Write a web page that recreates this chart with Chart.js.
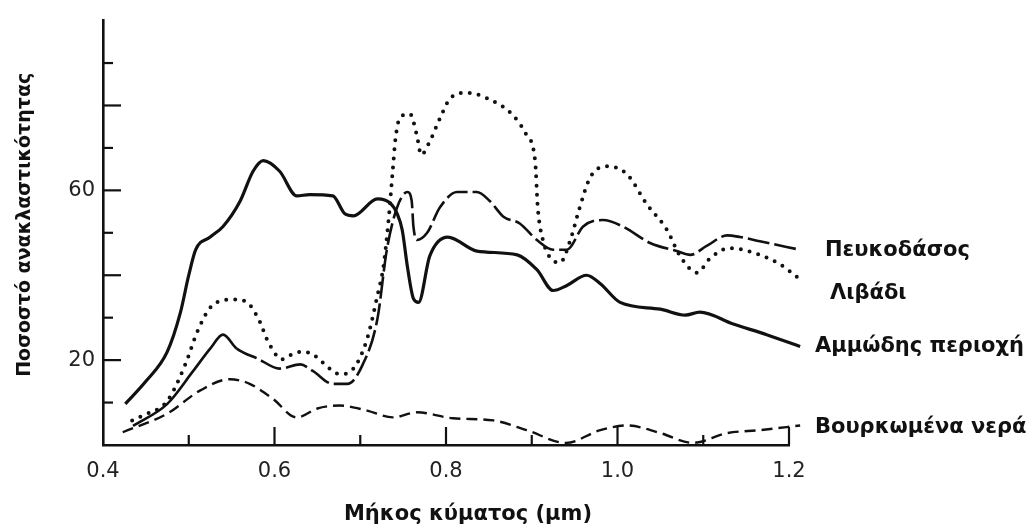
<!DOCTYPE html>
<html>
<head>
<meta charset="utf-8">
<script src="https://cdn.jsdelivr.net/npm/chart.js@4.4.1/dist/chart.umd.min.js"></script>
<style>
    html, body { margin: 0; padding: 0; background: #ffffff; }
    #chart { display: block; }
</style>
</head>
<body>
<canvas id="chart" width="1031" height="529"></canvas>
<script>
// Μήκος κύματος (μm) και ποσοστό ανακλαστικότητας ανά επιφάνεια
const pineX = [0.435, 0.475, 0.505, 0.525, 0.54, 0.556, 0.58, 0.606, 0.63, 0.645, 0.668, 0.685, 0.703, 0.72, 0.731, 0.743, 0.755, 0.76, 0.762, 0.766, 0.778, 0.793, 0.813, 0.836, 0.851, 0.867, 0.886, 0.906, 0.925, 0.941, 0.96, 0.983, 1.006, 1.038, 1.069, 1.085, 1.104, 1.128, 1.143, 1.166, 1.213];
const pineY = [4.5, 9.7, 17.4, 22.7, 26, 22.7, 20.4, 18, 19, 17.4, 14.4, 14.4, 19, 29.7, 46, 56, 59.6, 57.5, 51.5, 48.3, 50, 56, 59.6, 59.6, 57.5, 53.8, 52.2, 48.3, 46, 46, 51.5, 53, 51.5, 47.6, 45.7, 44.8, 46.9, 49.4, 49, 48, 46];

const meadowX = [0.434, 0.447, 0.475, 0.496, 0.51, 0.528, 0.552, 0.568, 0.583, 0.591, 0.609, 0.62, 0.633, 0.645, 0.665, 0.676, 0.692, 0.708, 0.72, 0.727, 0.733, 0.738, 0.741, 0.746, 0.758, 0.766, 0.771, 0.781, 0.793, 0.805, 0.824, 0.848, 0.878, 0.894, 0.904, 0.907, 0.913, 0.924, 0.933, 0.945, 0.956, 0.968, 0.988, 1.011, 1.034, 1.058, 1.073, 1.093, 1.108, 1.131, 1.166, 1.19, 1.213];
const meadowY = [5.8, 7, 10.4, 19, 26.7, 33, 34.3, 33.6, 29, 25, 20.2, 21.3, 22, 21.3, 17.9, 16.7, 18, 25, 35.2, 42, 53, 65, 72, 77, 78, 73, 68.4, 71.5, 77, 81.7, 83, 81.7, 77.7, 73, 66.8, 56, 48.3, 43.6, 43, 48.3, 56, 63, 65.7, 63.8, 56.8, 50.6, 44.5, 40.6, 44, 46.4, 44.8, 42.5, 39];

const sandX = [0.426, 0.45, 0.475, 0.49, 0.5, 0.508, 0.525, 0.54, 0.56, 0.575, 0.587, 0.606, 0.626, 0.641, 0.668, 0.682, 0.692, 0.72, 0.735, 0.743, 0.749, 0.755, 0.762, 0.768, 0.781, 0.802, 0.836, 0.883, 0.906, 0.925, 0.941, 0.964, 0.98, 1.003, 1.05, 1.079, 1.096, 1.135, 1.174, 1.213];
const sandY = [9.7, 15, 22, 31, 40, 46, 49, 51.5, 57.5, 64.5, 67, 64.5, 58.7, 59, 58.7, 54.5, 54, 58, 57, 54.5, 50.6, 42, 34.5, 33.6, 44.5, 49, 45.7, 44.8, 41.3, 36.4, 37.6, 40, 38, 33.6, 32, 30.6, 31.3, 28.5, 26, 23.2];

const waterX = [0.423, 0.475, 0.513, 0.548, 0.571, 0.598, 0.626, 0.65, 0.676, 0.708, 0.738, 0.766, 0.808, 0.855, 0.894, 0.94, 0.98, 1.011, 1.05, 1.088, 1.128, 1.166, 1.213];
const waterY = [3, 7.4, 12.8, 15.5, 14.4, 10.9, 6.5, 8.6, 9.3, 8.1, 6.5, 7.7, 6.3, 5.8, 3.5, 0.5, 3.5, 4.6, 2.8, 0.5, 2.8, 3.5, 4.6];

const seriesNames = ['Πευκοδάσος', 'Λιβάδι', 'Αμμώδης περιοχή', 'Βουρκωμένα νερά'];
const xTickLabels = ['0.4', '0.6', '0.8', '1.0', '1.2'];
const yTickLabels = ['20', '60'];
const xTitle = 'Μήκος κύματος (μm)';
const yTitle = 'Ποσοστό ανακλαστικότητας';

// θέση ετικετών δεξιά (dx από το τέλος του άξονα, dy από το τελευταίο σημείο)
const nameOffsets = [[36, 1], [41, 14], [26, 0], [26, 2]];

const INK = '#111111';

function toPoints(xs, ys) {
    return xs.map((x, i) => ({ x: x, y: ys[i] }));
}

// Γραμμές υποδιαίρεσης προς τα μέσα, όπως στο πρωτότυπο
const innerTicks = {
    id: 'innerTicks',
    afterDraw(chart) {
        const ctx = chart.ctx;
        const xs = chart.scales.x;
        const ys = chart.scales.y;
        const area = chart.chartArea;
        ctx.save();
        ctx.strokeStyle = INK;
        ctx.lineWidth = 2.2;
        xs.ticks.forEach(t => {
            const k = Math.round(t.value * 10);
            if (k <= 4) return;
            const px = xs.getPixelForValue(t.value);
            const len = k % 2 === 0 ? 18 : 10;
            ctx.beginPath();
            ctx.moveTo(px, area.bottom);
            ctx.lineTo(px, area.bottom - len);
            ctx.stroke();
        });
        ys.ticks.forEach(t => {
            const v = Math.round(t.value);
            if (v <= 0 || v >= 100) return;
            const py = ys.getPixelForValue(v);
            const len = v % 20 === 0 ? 18 : 10;
            ctx.beginPath();
            ctx.moveTo(area.left, py);
            ctx.lineTo(area.left + len, py);
            ctx.stroke();
        });
        ctx.restore();
    }
};

// Τίτλοι αξόνων και ονόματα σειρών στο δεξί άκρο κάθε καμπύλης
const textLayer = {
    id: 'textLayer',
    afterDatasetsDraw(chart) {
        const ctx = chart.ctx;
        const area = chart.chartArea;
        ctx.save();
        ctx.fillStyle = INK;
        ctx.font = 'bold 21px "DejaVu Sans"';
        ctx.textBaseline = 'middle';
        ctx.textAlign = 'left';
        chart.data.datasets.forEach((ds, i) => {
            const meta = chart.getDatasetMeta(i);
            const last = meta.data[meta.data.length - 1];
            const off = nameOffsets[i];
            ctx.fillText(ds.label, area.right + off[0], last.y + off[1]);
        });

        ctx.textAlign = 'center';
        ctx.textBaseline = 'alphabetic';
        ctx.font = 'bold 21px "DejaVu Sans"';
        ctx.fillText(xTitle, (area.left + area.right) / 2 + 22, 520);

        ctx.translate(30, (area.top + area.bottom) / 2 - 8);
        ctx.rotate(-Math.PI / 2);
        ctx.font = 'bold 19px "DejaVu Sans"';
        ctx.fillText(yTitle, 0, 0);
        ctx.restore();
    }
};

const ctx = document.getElementById('chart').getContext('2d');

new Chart(ctx, {
    type: 'line',
    data: {
        datasets: [{
            label: seriesNames[0],
            data: toPoints(pineX, pineY),
            borderColor: INK,
            borderWidth: 2.6,
            borderDash: [22, 5],
            segment: {
                borderDash: c => (c.p0.parsed.x < 0.55 ? [] : [22, 5])
            }
        }, {
            label: seriesNames[1],
            data: toPoints(meadowX, meadowY),
            borderColor: INK,
            borderWidth: 4,
            borderDash: [0, 9],
            borderCapStyle: 'round'
        }, {
            label: seriesNames[2],
            data: toPoints(sandX, sandY),
            borderColor: INK,
            borderWidth: 3.2
        }, {
            label: seriesNames[3],
            data: toPoints(waterX, waterY),
            borderColor: INK,
            borderWidth: 2.4,
            borderDash: [11, 6]
        }]
    },
    options: {
        responsive: false,
        animation: false,
        devicePixelRatio: 1,
        layout: {
            padding: { top: 14, right: 242, left: 0, bottom: 0 }
        },
        elements: {
            point: { radius: 0, hoverRadius: 0 },
            line: { cubicInterpolationMode: 'monotone', fill: false }
        },
        datasets: {
            line: { clip: false }
        },
        plugins: {
            legend: { display: false },
            tooltip: { enabled: false }
        },
        scales: {
            x: {
                type: 'linear',
                min: 0.4,
                max: 1.2,
                grid: { display: false, drawTicks: false },
                border: { display: true, color: INK, width: 2.6 },
                ticks: {
                    stepSize: 0.1,
                    padding: 14,
                    color: '#222222',
                    font: { family: '"DejaVu Sans"', size: 21 },
                    maxRotation: 0,
                    autoSkip: false,
                    callback: v => {
                        const s = Number(v).toFixed(1);
                        return xTickLabels.includes(s) ? s : '';
                    }
                },
                afterFit: s => { s.height = 84; }
            },
            y: {
                min: 0,
                max: 100,
                grid: { display: false, drawTicks: false },
                border: { display: true, color: INK, width: 2.6 },
                ticks: {
                    stepSize: 10,
                    padding: 8,
                    color: '#222222',
                    font: { family: '"DejaVu Sans"', size: 21 },
                    autoSkip: false,
                    callback: v => {
                        const s = String(Math.round(v));
                        return yTickLabels.includes(s) ? s : '';
                    }
                },
                afterFit: s => { s.width = 103; }
            }
        }
    },
    plugins: [innerTicks, textLayer]
});
</script>
</body>
</html>
